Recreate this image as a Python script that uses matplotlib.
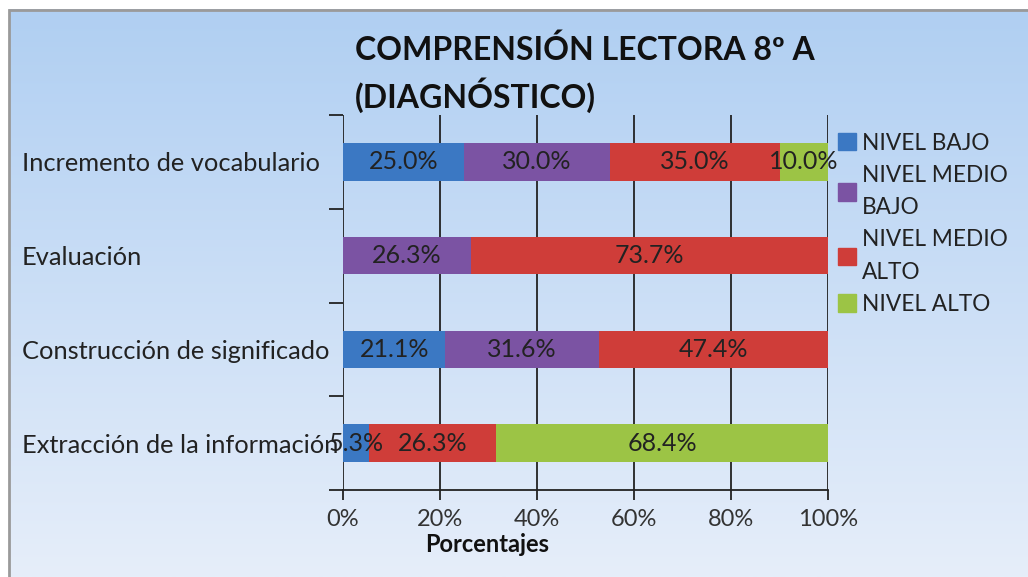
import matplotlib.pyplot as plt
import numpy as np
from matplotlib.patches import Patch, Rectangle

# Datos de la gráfica
categorias = ['Incremento de vocabulario', 'Evaluación',
              'Construcción de significado', 'Extracción de la información']
niveles = ['NIVEL BAJO', 'NIVEL MEDIO\nBAJO', 'NIVEL MEDIO\nALTO', 'NIVEL ALTO']
nivel_bajo = [25.0, 0.0, 21.1, 5.3]
nivel_medio_bajo = [30.0, 26.3, 31.6, 0.0]
nivel_medio_alto = [35.0, 73.7, 47.4, 26.3]
nivel_alto = [10.0, 0.0, 0.0, 68.4]
colores = ['#3b78c3', '#7b53a3', '#cf3d39', '#9cc445']

plt.rcParams['font.family'] = ['Lato', 'DejaVu Sans']

fig = plt.figure(figsize=(10.28, 5.77), dpi=100)

# Fondo degradado con borde gris
fondo = fig.add_axes([0, 0, 1, 1], zorder=-10)
grad = np.linspace(0, 1, 256).reshape(-1, 1)
c_top = np.array([0xb0, 0xcf, 0xf2]) / 255
c_bot = np.array([0xe6, 0xee, 0xfa]) / 255
img = c_top[None, None, :] * (1 - grad[:, :, None]) + c_bot[None, None, :] * grad[:, :, None]
x0, y1 = 9 / 1028, 1 - 9.5 / 577
fondo.imshow(img, aspect='auto', extent=[x0, 1, 0, y1])
fondo.add_patch(Rectangle((x0, -0.01), 1.02 - x0, y1 + 0.01, fill=False,
                          edgecolor='#9a9a9a', linewidth=2))
fondo.set_xlim(0, 1)
fondo.set_ylim(0, 1)
fondo.axis('off')

ax = fig.add_axes([343 / 1028, 87 / 577, 485 / 1028, 375 / 577])
ax.set_facecolor('none')

series = [nivel_bajo, nivel_medio_bajo, nivel_medio_alto, nivel_alto]
y = np.arange(len(categorias))[::-1]
izquierda = np.zeros(len(categorias))
for valores, color, nombre in zip(series, colores, niveles):
    valores = np.array(valores)
    ax.barh(y, valores, left=izquierda, height=0.4, color=color, label=nombre, zorder=3)
    for yi, v, l in zip(y, valores, izquierda):
        if v > 0:
            ax.text(l + v / 2, yi, f'{v:.1f}%', ha='center', va='center',
                    fontsize=18, color='#222222', zorder=4)
    izquierda += valores

ax.set_xlim(0, 100)
ax.set_ylim(-0.5, len(categorias) - 0.5)
ax.set_xticks(np.arange(0, 101, 20))
ax.set_xticklabels([f'{t}%' for t in range(0, 101, 20)], fontsize=17, color='#333333')
ax.set_yticks(y)
ax.set_yticklabels(categorias, fontsize=18.3, color='#222222', ha='left')
ax.set_yticks(np.arange(-0.5, len(categorias), 1), minor=True)
ax.tick_params(axis='y', which='major', length=0, pad=(343 - 22) * 0.72)
ax.tick_params(axis='y', which='minor', length=10, width=1.3, color='#222222')
ax.tick_params(axis='x', length=7, width=1.3, color='#222222', pad=7)
ax.grid(True, axis='x', color='#222222', linewidth=1.3, zorder=1)

for lado in ['top', 'right', 'left']:
    ax.spines[lado].set_visible(False)
ax.spines['bottom'].set_color('#222222')
ax.spines['bottom'].set_linewidth(1.3)

ax.set_xlabel('Porcentajes', fontsize=17, fontweight='bold', color='#111111')
ax.xaxis.set_label_coords(0.297, -0.115)

fig.text(355 / 1028, 1 - 50 / 577, 'COMPRENSIÓN LECTORA 8º A',
         fontsize=23, fontweight='bold', color='#111111', ha='left', va='center')
fig.text(355 / 1028, 1 - 95 / 577, '(DIAGNÓSTICO)',
         fontsize=23, fontweight='bold', color='#111111', ha='left', va='center')

manijas = [Patch(facecolor=c, edgecolor=c) for c in colores]
leg = fig.legend(manijas, niveles, loc='upper left', bbox_to_anchor=(838 / 1028, 1 - 132.5 / 577),
                 frameon=False, fontsize=16.3, handlelength=0.8, handleheight=0.8,
                 handletextpad=0.27, labelspacing=0.5, labelcolor='#222222',
                 borderpad=0, borderaxespad=0)
for t in leg.get_texts():
    t.set_linespacing(1.66)

fig.savefig('out.png', dpi=100)
plt.close(fig)
